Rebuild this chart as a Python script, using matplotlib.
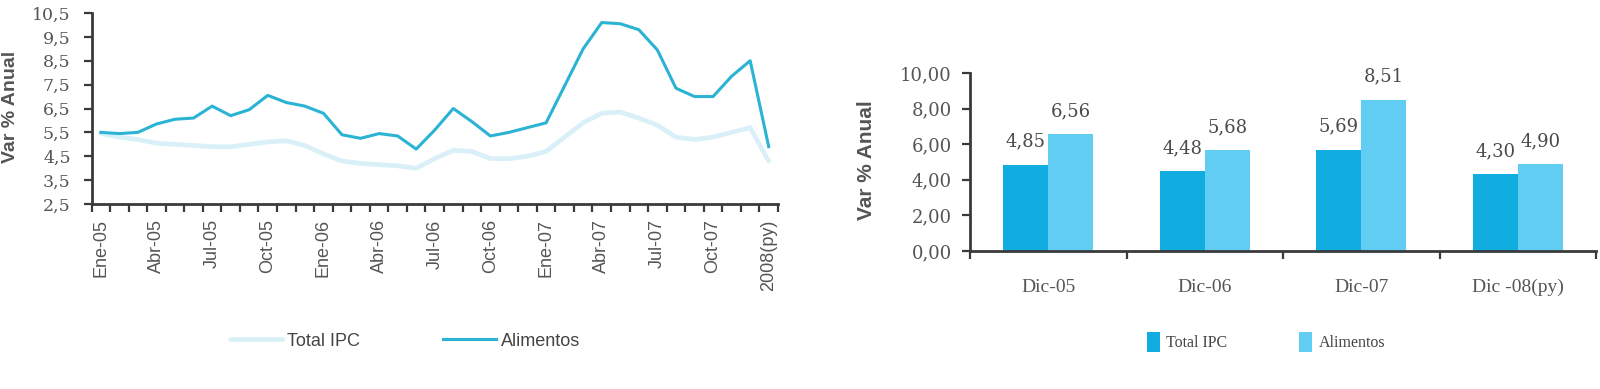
import matplotlib
matplotlib.use("Agg")
import matplotlib.pyplot as plt
from matplotlib.ticker import FixedLocator, FuncFormatter
import numpy as np

# ---------------- data ----------------
months = ["Ene-05", "Feb-05", "Mar-05", "Abr-05", "May-05", "Jun-05", "Jul-05", "Ago-05", "Sep-05",
          "Oct-05", "Nov-05", "Dic-05", "Ene-06", "Feb-06", "Mar-06", "Abr-06", "May-06", "Jun-06",
          "Jul-06", "Ago-06", "Sep-06", "Oct-06", "Nov-06", "Dic-06", "Ene-07", "Feb-07", "Mar-07",
          "Abr-07", "May-07", "Jun-07", "Jul-07", "Ago-07", "Sep-07", "Oct-07", "Nov-07", "Dic-07",
          "2008(py)"]
total_ipc = [5.45, 5.3, 5.2, 5.05, 5.0, 4.95, 4.9, 4.9, 5.0, 5.1, 5.15, 4.95,
             4.6, 4.3, 4.2, 4.15, 4.1, 4.0, 4.4, 4.75, 4.7, 4.4, 4.4, 4.5,
             4.7, 5.3, 5.9, 6.3, 6.35, 6.1, 5.8, 5.3, 5.2, 5.3, 5.5, 5.7,
             4.3]
alimentos = [5.5, 5.45, 5.5, 5.85, 6.05, 6.1, 6.6, 6.2, 6.45, 7.05, 6.75, 6.6,
             6.3, 5.4, 5.25, 5.45, 5.35, 4.8, 5.6, 6.5, 5.95, 5.35, 5.5, 5.7,
             5.9, 7.45, 9.0, 10.1, 10.05, 9.8, 8.95, 7.35, 7.0, 7.0, 7.85, 8.5,
             4.9]
line_tick_labels = ["Ene-05", "Abr-05", "Jul-05", "Oct-05", "Ene-06", "Abr-06", "Jul-06",
                    "Oct-06", "Ene-07", "Abr-07", "Jul-07", "Oct-07", "2008(py)"]
line_tick_idx = [0, 3, 6, 9, 12, 15, 18, 21, 24, 27, 30, 33, 36]

bar_categories = ["Dic-05", "Dic-06", "Dic-07", "Dic -08(py)"]
bar_total_ipc = [4.85, 4.48, 5.69, 4.30]
bar_alimentos = [6.56, 5.68, 8.51, 4.90]

# ---------------- style ----------------
W, H = 1600, 389
fig = plt.figure(figsize=(W / 100, H / 100), dpi=100)
fig.patch.set_facecolor("white")

def px_axes(x0, x1, ytop, ybot):
    return fig.add_axes([x0 / W, 1 - ybot / H, (x1 - x0) / W, (ybot - ytop) / H])

spine_c = "#3a3a3a"
text_c = "#4a4a4a"
c_total_line = "#daf0f8"
c_alim_line = "#2bb3d4"
c_total_bar = "#12ade0"
c_alim_bar = "#62cdf2"

def comma_fmt(decimals):
    return FuncFormatter(lambda v, p: f"{v:.{decimals}f}".replace(".", ","))

# ---------------- left: line chart ----------------
ax1 = px_axes(91.5, 778, 13, 204)
x = np.arange(len(months))
ax1.plot(x, total_ipc, color=c_total_line, lw=3.4, label="Total IPC", solid_capstyle="round")
ax1.plot(x, alimentos, color=c_alim_line, lw=2.2, label="Alimentos", solid_joinstyle="round")
ax1.set_xlim(-0.5, len(months) - 0.5)
ax1.set_ylim(2.5, 10.5)
ax1.set_yticks(np.arange(2.5, 10.6, 1.0))
ax1.yaxis.set_major_formatter(comma_fmt(1))
ax1.set_xticks(line_tick_idx)
ax1.set_xticklabels(line_tick_labels, rotation=90, family=["Liberation Sans", "DejaVu Sans"],
                    fontsize=13, color="#555555")
ax1.xaxis.set_minor_locator(FixedLocator(np.arange(-0.5, len(months), 1.0)))
ax1.tick_params(axis="x", which="major", length=0, pad=11)
ax1.tick_params(axis="x", which="minor", length=6, width=1.6, color=spine_c, direction="out")
ax1.tick_params(axis="y", length=6, width=1.6, color=spine_c, direction="out", pad=9)
for lab in ax1.get_yticklabels():
    lab.set_family("DejaVu Serif")
    lab.set_fontsize(12.5)
    lab.set_color("#555555")
for s in ["top", "right"]:
    ax1.spines[s].set_visible(False)
for s in ["left", "bottom"]:
    ax1.spines[s].set_color(spine_c)
    ax1.spines[s].set_linewidth(2)

fig.text(11 / W, 1 - 107 / H, "Var % Anual", rotation=90, ha="center", va="center",
         fontsize=14, color="#555555", family="Liberation Sans", fontweight="bold")

leg1 = ax1.legend(loc="center", bbox_to_anchor=(405 / W, 1 - 341 / H),
                  bbox_transform=fig.transFigure, ncol=2, frameon=False,
                  prop={"family": "Liberation Sans", "size": 13}, handlelength=2.9,
                  handletextpad=0.3, columnspacing=4.6)
for t in leg1.get_texts():
    t.set_color("#444444")

# ---------------- right: bar chart ----------------
ax2 = px_axes(970, 1596, 73, 251)
xb = np.arange(len(bar_categories))
bw = 0.2875
b1 = ax2.bar(xb - bw / 2, bar_total_ipc, width=bw, color=c_total_bar, label="Total IPC")
b2 = ax2.bar(xb + bw / 2, bar_alimentos, width=bw, color=c_alim_bar, label="Alimentos")
for bars, vals in ((b1, bar_total_ipc), (b2, bar_alimentos)):
    for r, v in zip(bars, vals):
        ax2.annotate(f"{v:.2f}".replace(".", ","), (r.get_x() + r.get_width() / 2, v),
                     xytext=(0, 10), textcoords="offset points", ha="center", va="bottom",
                     fontsize=13, family="DejaVu Serif", color=text_c)
ax2.set_xlim(-0.5, len(bar_categories) - 0.5)
ax2.set_ylim(0, 10)
ax2.set_yticks(np.arange(0, 10.1, 2))
ax2.yaxis.set_major_formatter(comma_fmt(2))
ax2.set_xticks(xb)
ax2.set_xticklabels(bar_categories, family="Liberation Serif", fontsize=14, color="#555555")
ax2.xaxis.set_minor_locator(FixedLocator(np.arange(-0.5, len(bar_categories), 1.0)))
ax2.tick_params(axis="x", which="major", length=0, pad=20)
ax2.tick_params(axis="x", which="minor", length=6, width=1.6, color=spine_c, direction="out")
ax2.tick_params(axis="y", length=6, width=1.6, color=spine_c, direction="out", pad=7)
for lab in ax2.get_yticklabels():
    lab.set_family("DejaVu Serif")
    lab.set_fontsize(13)
    lab.set_color("#555555")
for s in ["top", "right"]:
    ax2.spines[s].set_visible(False)
for s in ["left", "bottom"]:
    ax2.spines[s].set_color(spine_c)
    ax2.spines[s].set_linewidth(2)

fig.text(866 / W, 1 - 160 / H, "Var % Anual", rotation=90, ha="center", va="center",
         fontsize=15, color="#555555", family="Liberation Sans", fontweight="bold")

leg2 = ax2.legend(loc="center", bbox_to_anchor=(1266 / W, 1 - 342 / H),
                  bbox_transform=fig.transFigure, ncol=2, frameon=False,
                  prop={"family": "Liberation Serif", "size": 11.5}, handlelength=0.8,
                  handleheight=1.6, handletextpad=0.4, columnspacing=4.5)
for t in leg2.get_texts():
    t.set_color("#444444")

fig.savefig("out.png", dpi=100, facecolor="white")
